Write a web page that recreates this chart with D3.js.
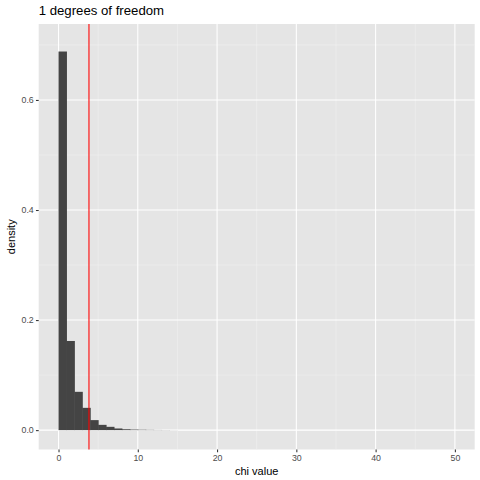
<!DOCTYPE html>
<html>
<head>
<meta charset="utf-8">
<script src="https://cdn.jsdelivr.net/npm/d3@7"></script>
<style>
  html, body { margin: 0; padding: 0; background: #fff; }
  svg { display: block; }
  text { font-family: "Liberation Sans", Arial, Helvetica, sans-serif; }
</style>
</head>
<body>
<svg id="chart" width="480" height="480"></svg>
<script>
// ---- data ----
const binStarts = [0,1,2,3,4,5,6,7,8,9,10,11,12,13,14,15,16,17,18,19,20,21,22,23,24,25,26,27,28,29,30,31,32,33,34,35,36,37,38,39,40,41,42,43,44,45,46,47,48,49];
const densities = [0.688,0.162,0.0696,0.0405,0.0182,0.0096,0.006,0.003,0.0016,0.001,0.0007,0.0005,0.0003,0.0002,0.0001,0,0,0,0,0,0,0,0,0,0,0,0,0,0,0,0,0,0,0,0,0,0,0,0,0,0,0,0,0,0,0,0,0,0,0];
const binWidth = 1;
const criticalValue = 3.841;
const xTicks = [0,10,20,30,40,50];
const xMinor = [5,15,25,35,45];
const yTicks = [0,0.2,0.4,0.6];
const yMinor = [0.1,0.3,0.5,0.7];
const yTickLabels = ["0.0","0.2","0.4","0.6"];
const titleText = "1 degrees of freedom";
const xTitle = "chi value";
const yTitle = "density";

// ---- layout ----
const panel = {left: 38.7, right: 474.7, top: 24, bottom: 449.5};
const svg = d3.select("#chart");

const x = d3.scaleLinear().domain([-2.5, 52.5]).range([panel.left, panel.right]);
const y = d3.scaleLinear().domain([-0.0352, 0.738]).range([panel.bottom, panel.top]);

// panel background
svg.append("rect")
  .attr("x", panel.left).attr("y", panel.top)
  .attr("width", panel.right - panel.left).attr("height", panel.bottom - panel.top)
  .attr("fill", "#E5E5E5");

const grid = svg.append("g");
// minor grid
grid.selectAll(".xm").data(xMinor).join("line")
  .attr("class","xm")
  .attr("x1", d => x(d)).attr("x2", d => x(d))
  .attr("y1", panel.top).attr("y2", panel.bottom)
  .attr("stroke", "#F2F2F2").attr("stroke-width", 0.53);
grid.selectAll(".ym").data(yMinor).join("line")
  .attr("class","ym")
  .attr("y1", d => y(d)).attr("y2", d => y(d))
  .attr("x1", panel.left).attr("x2", panel.right)
  .attr("stroke", "#F2F2F2").attr("stroke-width", 0.53);
// major grid
grid.selectAll(".xM").data(xTicks).join("line")
  .attr("class","xM")
  .attr("x1", d => x(d)).attr("x2", d => x(d))
  .attr("y1", panel.top).attr("y2", panel.bottom)
  .attr("stroke", "#fff").attr("stroke-width", 1.07);
grid.selectAll(".yM").data(yTicks).join("line")
  .attr("class","yM")
  .attr("y1", d => y(d)).attr("y2", d => y(d))
  .attr("x1", panel.left).attr("x2", panel.right)
  .attr("stroke", "#fff").attr("stroke-width", 1.07);

// bars (slight overlap to avoid anti-aliasing seams)
const bins = binStarts.map((s, i) => ({x0: s, x1: s + binWidth, d: densities[i]}));
svg.append("g").selectAll("rect").data(bins.filter(b => b.d > 0)).join("rect")
  .attr("x", d => x(d.x0))
  .attr("width", d => x(d.x1) - x(d.x0) + 0.5)
  .attr("y", d => y(d.d))
  .attr("height", d => y(0) - y(d.d))
  .attr("fill", "#444444");

// critical value line
svg.append("line")
  .attr("x1", x(criticalValue)).attr("x2", x(criticalValue))
  .attr("y1", panel.top).attr("y2", panel.bottom)
  .attr("stroke", "red").attr("stroke-width", 1.07);

// axes
const xAxis = d3.axisBottom(x).tickValues(xTicks).tickSize(2.75).tickPadding(2.2);
const gx = svg.append("g").attr("transform", `translate(0,${panel.bottom})`).call(xAxis);
gx.select(".domain").remove();
gx.selectAll(".tick line").attr("stroke", "#333333").attr("stroke-width", 1.07);
gx.selectAll(".tick text").attr("fill", "#4D4D4D").style("font-size", "8.8px")
  .style("font-family", '"Liberation Sans", Arial, sans-serif');

const yAxis = d3.axisLeft(y).tickValues(yTicks).tickFormat((d, i) => yTickLabels[i]).tickSize(2.75).tickPadding(2.2);
const gy = svg.append("g").attr("transform", `translate(${panel.left},0)`).call(yAxis);
gy.select(".domain").remove();
gy.selectAll(".tick line").attr("stroke", "#333333").attr("stroke-width", 1.07);
gy.selectAll(".tick text").attr("fill", "#4D4D4D").style("font-size", "8.8px")
  .style("font-family", '"Liberation Sans", Arial, sans-serif');

// titles
svg.append("text")
  .attr("x", panel.left).attr("y", 15)
  .attr("fill", "#000").style("font-size", "13.2px")
  .text(titleText);

svg.append("text")
  .attr("x", (panel.left + panel.right) / 2).attr("y", 474.5)
  .attr("text-anchor", "middle")
  .attr("fill", "#000").style("font-size", "11px")
  .text(xTitle);

svg.append("text")
  .attr("transform", `translate(15,${(panel.top + panel.bottom) / 2}) rotate(-90)`)
  .attr("text-anchor", "middle")
  .attr("fill", "#000").style("font-size", "11px")
  .text(yTitle);
</script>
</body>
</html>
